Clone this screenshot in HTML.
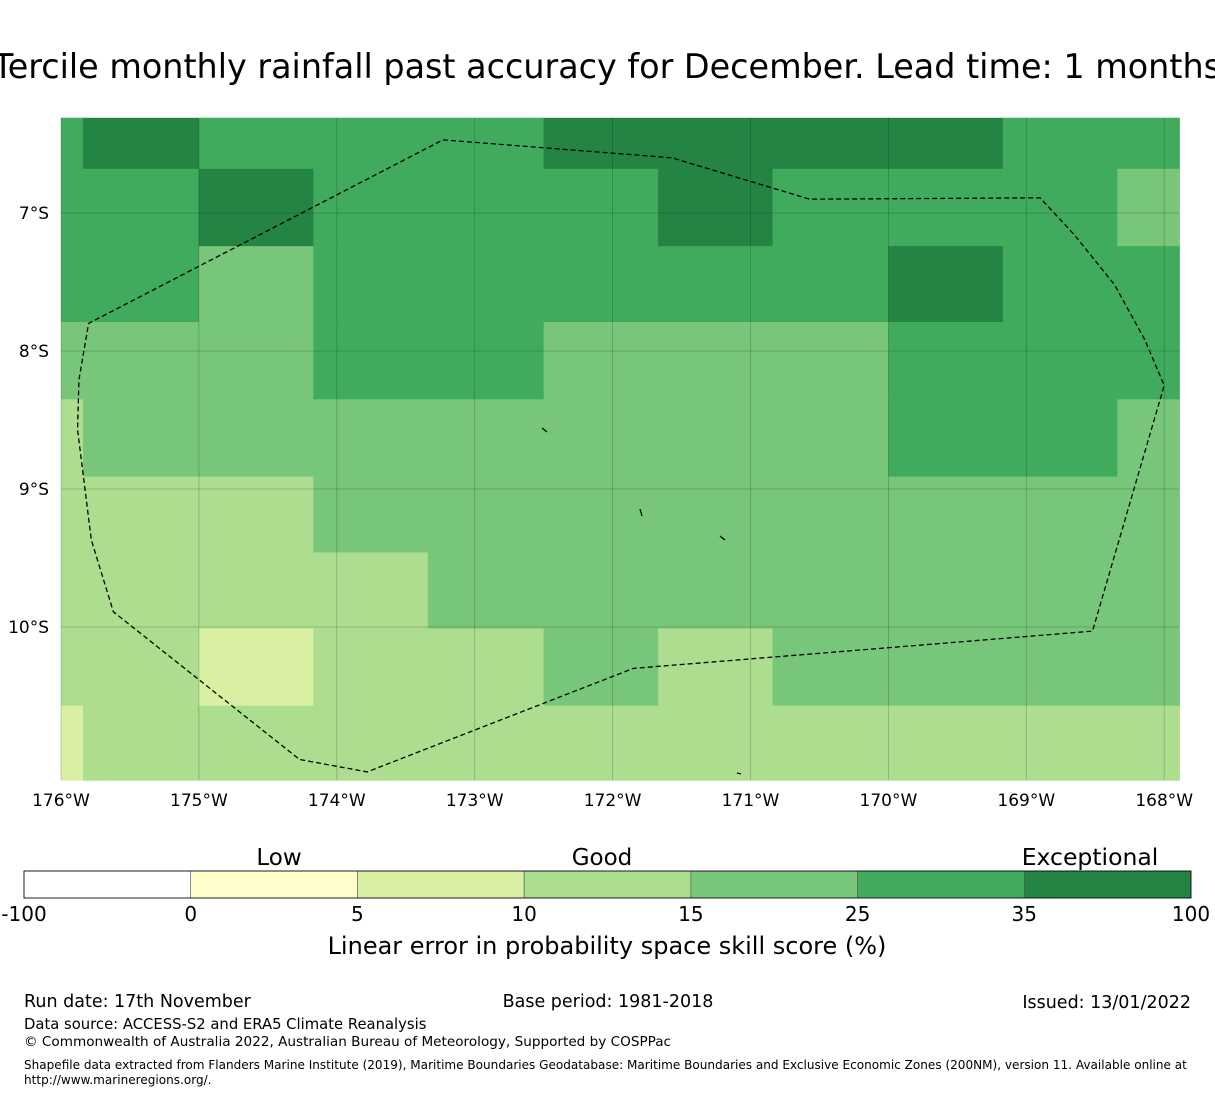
<!DOCTYPE html>
<html><head><meta charset="utf-8"><style>
body{margin:0;background:#fff;font-family:"DejaVu Sans","Liberation Sans",sans-serif;}
svg{display:block}
</style></head><body>
<svg id="c" width="1215" height="1095" xmlns="http://www.w3.org/2000/svg"></svg>
<script>
const lonEdges=[-176,-175.84,-175.0,-174.17,-173.34,-172.5,-171.67,-170.84,-170.0,-169.17,-168.34,-167.89];
const latEdges=[-6.31,-6.68,-7.24,-7.79,-8.35,-8.91,-9.46,-10.01,-10.57,-11.11];
const skillRows=[
[30,40,30,30,30,40,40,40,40,30,30],
[30,30,40,30,30,30,40,30,30,30,20],
[30,30,20,30,30,30,30,30,40,30,30],
[20,20,20,30,30,20,20,20,30,30,30],
[12,20,20,20,20,20,20,20,30,30,20],
[12,12,12,20,20,20,20,20,20,20,20],
[12,12,12,12,20,20,20,20,20,20,20],
[12,12,7,12,12,20,12,20,20,20,20],
[7,12,12,12,12,12,12,12,12,12,12]];
const binEdges=[-100,0,5,10,15,25,35,100];
const binColors=["#ffffff","#ffffcc","#d9f0a3","#addd8e","#78c679","#41ab5d","#238443"];
const lonTicks=[-176,-175,-174,-173,-172,-171,-170,-169,-168];
const latTicks=[-7,-8,-9,-10];
const eezLon=[-173.23,-171.57,-170.57,-168.90,-168.65,-168.36,-168.14,-168.00,-168.52,-171.85,-173.78,-174.27,-175.62,-175.78,-175.88,-175.87,-175.80];
const eezLat=[-6.47,-6.60,-6.90,-6.89,-7.16,-7.52,-7.92,-8.25,-10.03,-10.30,-11.05,-10.96,-9.89,-9.37,-8.57,-8.21,-7.80];
const X=lon=>61+(lon+176)*137.9;
const Y=lat=>213+(-lat-7)*138;
const NS="http://www.w3.org/2000/svg";
const svg=document.getElementById('c');
function el(t,a,p){const e=document.createElementNS(NS,t);for(const k in a)e.setAttribute(k,a[k]);(p||svg).appendChild(e);return e;}
function colorFor(v){for(let i=0;i<binEdges.length-1;i++){if(v>=binEdges[i]&&v<binEdges[i+1])return binColors[i];}return binColors[binColors.length-1];}
function txt(s,x,y,size,anchor,name,p){const t=el('text',{x:x,y:y,'font-size':size,'text-anchor':anchor||'middle',fill:'#000'},p);t.textContent=s;


return t;}
txt("Tercile monthly rainfall past accuracy for December. Lead time: 1 months",607,78,33.4,'middle','chart-title');
const map=el('g',{});


for(let r=0;r<skillRows.length;r++)for(let c=0;c<skillRows[r].length;c++){
const x0=X(lonEdges[c]),x1=X(lonEdges[c+1]),y0=Y(latEdges[r]),y1=Y(latEdges[r+1]);
const rc=el('rect',{x:x0,y:y0,width:x1-x0+0.5,height:y1-y0+0.5,fill:colorFor(skillRows[r][c])},map);


}
const mx0=X(lonEdges[0]),mx1=X(lonEdges[lonEdges.length-1]),my0=Y(latEdges[0]),my1=Y(latEdges[latEdges.length-1]);
lonTicks.forEach(l=>{const x=X(l);
const g=el('line',{x1:x,x2:x,y1:my0,y2:my1,stroke:'#000','stroke-opacity':0.22,'stroke-width':0.8},map);


txt(Math.abs(l)+"°W",x,806,17,'middle','lon-tick-label');});
latTicks.forEach(l=>{const y=Y(l);
const g=el('line',{x1:mx0,x2:mx1,y1:y,y2:y,stroke:'#000','stroke-opacity':0.22,'stroke-width':0.8},map);


txt(Math.abs(l)+"°S",49,y+6,17,'end','lat-tick-label');});
let pts=eezLon.map((l,i)=>X(l)+","+Y(eezLat[i])).join(" ");
const eez=el('polygon',{points:pts,fill:'none',stroke:'#000','stroke-width':1.3,'stroke-dasharray':'5,3'},map);


[[542,428,547,432],[640,509,642,516],[720,536,725,540],[737,773,741,774]].forEach(a=>{
const i=el('line',{x1:a[0],y1:a[1],x2:a[2],y2:a[3],stroke:'#000','stroke-width':1.3},map);

});
const cb=el('g',{});


const cbx0=24,cbw=1167/7;
binColors.forEach((col,i)=>{const r=el('rect',{x:cbx0+i*cbw,y:871,width:cbw,height:27,fill:col,stroke:'#555','stroke-width':0.6},cb);

});
el('rect',{x:cbx0,y:871,width:1167,height:27,fill:'none',stroke:'#000','stroke-width':0.8},cb);
binEdges.forEach((v,i)=>txt(String(v),cbx0+i*cbw,921,20,'middle','colorbar-tick-label'));
txt("Low",279,865,23,'middle','category-low');
txt("Good",602,865,23,'middle','category-good');
txt("Exceptional",1090,865,23.5,'middle','category-exceptional');
txt("Linear error in probability space skill score (%)",607,954,24,'middle','colorbar-title');
txt("Run date: 17th November",24,1007,17.5,'start','run-date');
txt("Base period: 1981-2018",608,1007,17.5,'middle','base-period');
txt("Issued: 13/01/2022",1191,1008,17.5,'end','issued-date');
txt("Data source: ACCESS-S2 and ERA5 Climate Reanalysis",24,1029,14.8,'start','data-source');
txt("© Commonwealth of Australia 2022, Australian Bureau of Meteorology, Supported by COSPPac",24,1046,13.6,'start','copyright');
txt("Shapefile data extracted from Flanders Marine Institute (2019), Maritime Boundaries Geodatabase: Maritime Boundaries and Exclusive Economic Zones (200NM), version 11. Available online at",24,1069,12.05,'start','shapefile-credit');
txt("http://www.marineregions.org/.",24,1084,12.05,'start','shapefile-url');
</script>
</body></html>
